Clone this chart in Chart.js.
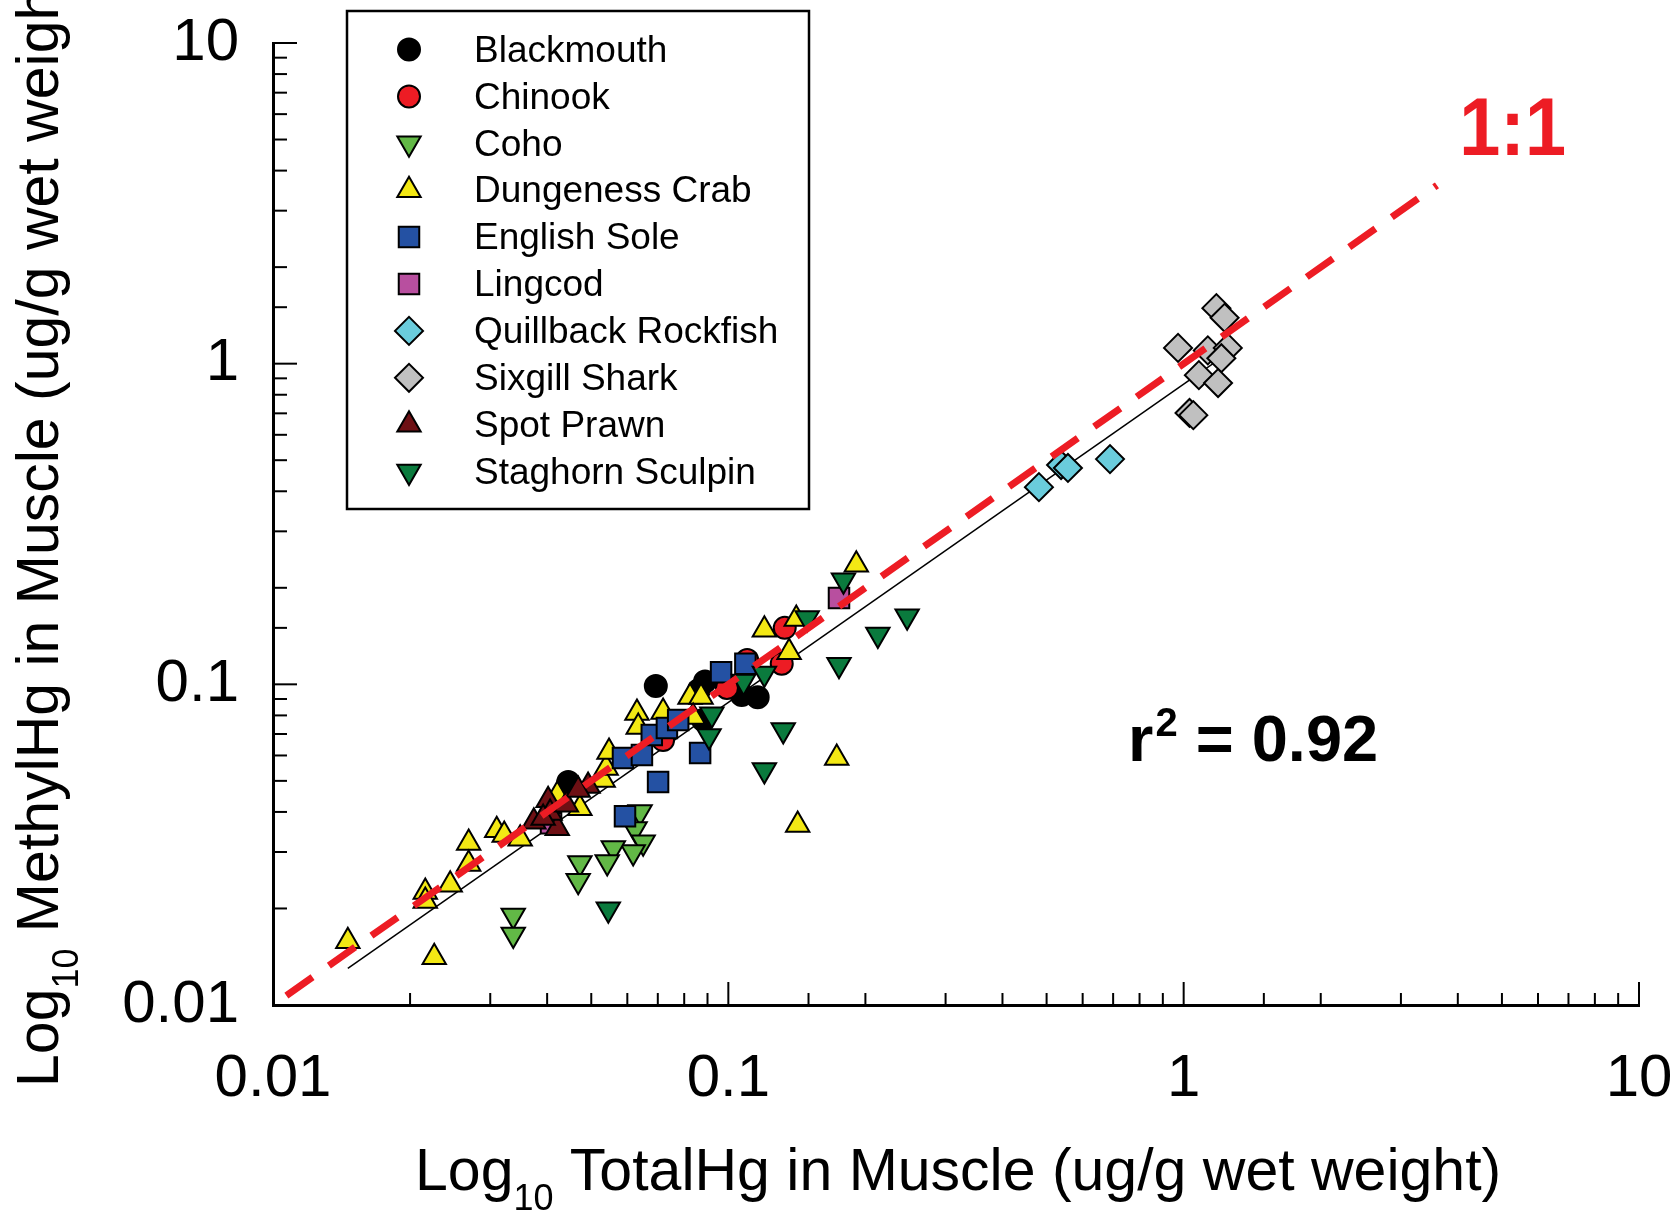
<!DOCTYPE html>
<html>
<head>
<meta charset="utf-8">
<script src="https://cdn.jsdelivr.net/npm/chart.js"></script>
<style>
  html, body { margin: 0; padding: 0; background: #fff; }
</style>
</head>
<body>
<canvas id="hgChart" width="1680" height="1213"></canvas>
<script>
// Mercure total vs méthylmercure dans le muscle, échelles log-log

const blackmouthX = [0.0445, 0.0693, 0.0889, 0.0862, 0.107, 0.116, 0.088];
const blackmouthY = [0.0496, 0.0988, 0.102, 0.096, 0.0927, 0.0912, 0.0774];

const chinookX = [0.133, 0.131, 0.110, 0.0993, 0.0719];
const chinookY = [0.150, 0.116, 0.119, 0.0974, 0.0670];

const cohoX = [0.0640, 0.0624, 0.0650, 0.0618, 0.0559, 0.0542, 0.0472, 0.0468, 0.0337, 0.0337];
const cohoY = [0.0400, 0.0354, 0.0322, 0.0300, 0.0309, 0.0279, 0.0277, 0.0244, 0.0190, 0.0166];

const crabX = [0.0146, 0.0226, 0.0216, 0.0216, 0.0245, 0.0269, 0.0269, 0.0310, 0.0322, 0.0349,
  0.0472, 0.0531, 0.0539, 0.0547, 0.0630, 0.0634, 0.0719, 0.0824, 0.0871, 0.0837,
  0.120, 0.136, 0.141, 0.191, 0.173, 0.142, 0.0421];
const crabY = [0.0158, 0.0141, 0.0225, 0.0211, 0.0237, 0.0320, 0.0275, 0.0351, 0.0339, 0.0330,
  0.0411, 0.0503, 0.0548, 0.0615, 0.0814, 0.0736, 0.0820, 0.0913, 0.0913, 0.0791,
  0.148, 0.126, 0.160, 0.236, 0.0589, 0.0364, 0.0452];

const soleX = [0.0593, 0.0701, 0.0587, 0.0646, 0.0679, 0.0867, 0.0733, 0.0776, 0.0964, 0.109];
const soleY = [0.0388, 0.0496, 0.0589, 0.0602, 0.0695, 0.0611, 0.0731, 0.0774, 0.109, 0.116];

const lingcodX = [0.175, 0.0408];
const lingcodY = [0.186, 0.0369];

const quillbackX = [0.481, 0.538, 0.557, 0.689];
const quillbackY = [0.412, 0.483, 0.473, 0.504];

const sixgillX = [1.18, 1.23, 0.972, 1.13, 1.25, 1.21, 1.08, 1.19, 1.03, 1.05];
const sixgillY = [1.49, 1.39, 1.12, 1.10, 1.12, 1.04, 0.921, 0.870, 0.702, 0.691];

const prawnX = [0.0402, 0.0374, 0.0421, 0.0406, 0.0441, 0.0492, 0.0468, 0.0392];
const prawnY = [0.0435, 0.0373, 0.0356, 0.0397, 0.0421, 0.0482, 0.0468, 0.0383];

const sculpinX = [0.179, 0.247, 0.213, 0.175, 0.149, 0.120, 0.108, 0.0920, 0.0907, 0.132, 0.120, 0.0545];
const sculpinY = [0.211, 0.163, 0.143, 0.115, 0.161, 0.108, 0.102, 0.0807, 0.0690, 0.0721, 0.0541, 0.0199];

// droite de régression et droite 1:1
const fitX = [0.0146, 1.16];
const fitY = [0.0130, 1.00];
const oneToOneX = [0.0107, 3.6];
const oneToOneY = [0.0107, 3.6];

const tickValues = [0.01, 0.1, 1, 10];

const speciesNames = ["Blackmouth", "Chinook", "Coho", "Dungeness Crab", "English Sole",
  "Lingcod", "Quillback Rockfish", "Sixgill Shark", "Spot Prawn", "Staghorn Sculpin"];
const speciesData = [
  [blackmouthX, blackmouthY], [chinookX, chinookY], [cohoX, cohoY], [crabX, crabY],
  [soleX, soleY], [lingcodX, lingcodY], [quillbackX, quillbackY], [sixgillX, sixgillY],
  [prawnX, prawnY], [sculpinX, sculpinY]
];
const speciesColors = ["#000000", "#ED1C24", "#62B846", "#F3E814", "#2451A3",
  "#B84F9F", "#6ACCDC", "#C0C0C0", "#6E1014", "#0A7A3D"];
const speciesStyles = ["circle", "circle", "triangle", "triangle", "rect",
  "rect", "rectRot", "rectRot", "triangle", "triangle"];
const speciesRotation = [0, 0, 180, 0, 0, 0, 0, 0, 0, 180];
const speciesRadius = [11, 11, 13.5, 13.5, 14.5, 14.5, 14, 14, 13.5, 13.5];

const FONT = "'Liberation Sans', Arial, sans-serif";

function toPoints(xs, ys) {
  return xs.map((x, i) => ({ x: x, y: ys[i] }));
}

function isDecade(v) {
  const l = Math.log10(v);
  return Math.abs(l - Math.round(l)) < 1e-6;
}

const datasets = speciesNames.map((name, i) => ({
  label: name,
  data: toPoints(speciesData[i][0], speciesData[i][1]),
  backgroundColor: speciesColors[i],
  borderColor: "#000",
  borderWidth: 2,
  pointStyle: speciesStyles[i],
  rotation: speciesRotation[i],
  pointRadius: speciesRadius[i],
  pointHoverRadius: speciesRadius[i],
  order: 10 - i
}));

datasets.push({
  label: "fit",
  type: "line",
  data: toPoints(fitX, fitY),
  borderColor: "#000",
  borderWidth: 1.5,
  pointRadius: 0,
  fill: false,
  order: 20
});

datasets.push({
  label: "1:1",
  type: "line",
  data: toPoints(oneToOneX, oneToOneY),
  borderColor: "#ED1C24",
  borderWidth: 7,
  borderDash: [32, 20],
  pointRadius: 0,
  fill: false,
  order: 0
});

// petites graduations tournées vers l'intérieur
const tickMarks = {
  id: "tickMarks",
  afterDraw(chart) {
    const ctx = chart.ctx;
    const area = chart.chartArea;
    const xs = chart.scales.x;
    const ys = chart.scales.y;
    ctx.save();
    ctx.strokeStyle = "#000";
    ctx.lineWidth = 2;
    xs.ticks.forEach(t => {
      const px = xs.getPixelForValue(t.value);
      const len = isDecade(t.value) ? 23 : 12;
      ctx.beginPath();
      ctx.moveTo(px, area.bottom);
      ctx.lineTo(px, area.bottom - len);
      ctx.stroke();
    });
    ys.ticks.forEach(t => {
      const py = ys.getPixelForValue(t.value);
      const len = isDecade(t.value) ? 24 : 14;
      ctx.beginPath();
      ctx.moveTo(area.left, py);
      ctx.lineTo(area.left + len, py);
      ctx.stroke();
    });
    ctx.restore();
  }
};

function drawMarker(ctx, i, x, y) {
  ctx.fillStyle = speciesColors[i];
  ctx.strokeStyle = "#000";
  ctx.lineWidth = 2;
  Chart.helpers.drawPoint(ctx, {
    pointStyle: speciesStyles[i],
    radius: speciesRadius[i],
    rotation: speciesRotation[i],
    borderWidth: 2
  }, x, y);
}

const legendBox = {
  id: "legendBox",
  afterDraw(chart) {
    const ctx = chart.ctx;
    ctx.save();
    ctx.strokeStyle = "#000";
    ctx.lineWidth = 2.5;
    ctx.strokeRect(347, 11, 462, 498);
    ctx.font = "37px " + FONT;
    ctx.textBaseline = "middle";
    speciesNames.forEach((name, i) => {
      const yy = 49.5 + i * 46.9;
      drawMarker(ctx, i, 409, yy);
      ctx.fillStyle = "#000";
      ctx.textAlign = "left";
      ctx.fillText(name, 474, yy + 2);
    });
    ctx.restore();
  }
};

function drawSubText(ctx, parts, x, y) {
  // parts: [texte, taille, décalage vertical]
  let cx = x;
  parts.forEach(p => {
    ctx.font = p[1] + "px " + FONT;
    ctx.fillText(p[0], cx, y + p[2]);
    cx += ctx.measureText(p[0]).width;
  });
}

const axisTitles = {
  id: "axisTitles",
  afterDraw(chart) {
    const ctx = chart.ctx;
    const xs = chart.scales.x;
    const ys = chart.scales.y;
    ctx.save();
    ctx.fillStyle = "#000";
    ctx.textAlign = "left";
    ctx.textBaseline = "alphabetic";
    drawSubText(ctx, [["Log", 59, 0], ["10", 36, 20], [" TotalHg in Muscle (ug/g wet weight)", 59, 0]], 415, 1190);

    ctx.save();
    ctx.translate(58, 1087);
    ctx.rotate(-Math.PI / 2);
    drawSubText(ctx, [["Log", 59, 0], ["10", 36, 20], [" MethylHg in Muscle (ug/g wet weight)", 59, 0]], 0, 0);
    ctx.restore();

    // étiquette 1:1 (police un peu étroite comme l'original)
    ctx.save();
    ctx.fillStyle = "#ED1C24";
    ctx.font = "bold 82px " + FONT;
    ctx.translate(xs.getPixelForValue(4.03), ys.getPixelForValue(4.47));
    ctx.scale(0.9, 1);
    ctx.fillText("1:1", 0, 0);
    ctx.restore();

    // coefficient de détermination
    ctx.fillStyle = "#000";
    const rx = xs.getPixelForValue(0.755);
    const ry = ys.getPixelForValue(0.0577);
    ctx.font = "bold 65px " + FONT;
    ctx.fillText("r", rx, ry);
    let w = ctx.measureText("r").width;
    ctx.font = "bold 40px " + FONT;
    ctx.fillText("2", rx + w + 2, ry - 25);
    w += ctx.measureText("2").width + 2;
    ctx.font = "bold 65px " + FONT;
    ctx.fillText(" = 0.92", rx + w, ry);
    ctx.restore();
  }
};

const ctx = document.getElementById("hgChart").getContext("2d");
new Chart(ctx, {
  type: "scatter",
  data: { datasets: datasets },
  plugins: [tickMarks, legendBox, axisTitles],
  options: {
    responsive: false,
    animation: false,
    devicePixelRatio: 1,
    layout: { padding: { top: 43, right: 41, left: 0, bottom: 0 } },
    plugins: {
      legend: { display: false },
      tooltip: { enabled: false }
    },
    scales: {
      x: {
        type: "logarithmic",
        min: 0.01,
        max: 10,
        afterFit: s => {
          s.height = 208;
          s.paddingLeft = 0;
          s.paddingRight = 0;
        },
        grid: { display: false, drawTicks: false },
        border: { display: true, color: "#000", width: 3 },
        ticks: {
          autoSkip: false,
          maxRotation: 0,
          minRotation: 0,
          padding: 38,
          color: "#000",
          font: { family: FONT, size: 60 },
          callback: v => (tickValues.includes(v) ? String(v) : "")
        }
      },
      y: {
        type: "logarithmic",
        min: 0.01,
        max: 10,
        afterFit: s => {
          s.width = 273;
          s.paddingTop = 0;
          s.paddingBottom = 0;
        },
        grid: { display: false, drawTicks: false },
        border: { display: true, color: "#000", width: 3 },
        ticks: {
          autoSkip: false,
          padding: 34,
          color: "#000",
          font: { family: FONT, size: 60 },
          callback: v => (tickValues.includes(v) ? String(v) : "")
        }
      }
    }
  }
});
</script>
</body>
</html>
